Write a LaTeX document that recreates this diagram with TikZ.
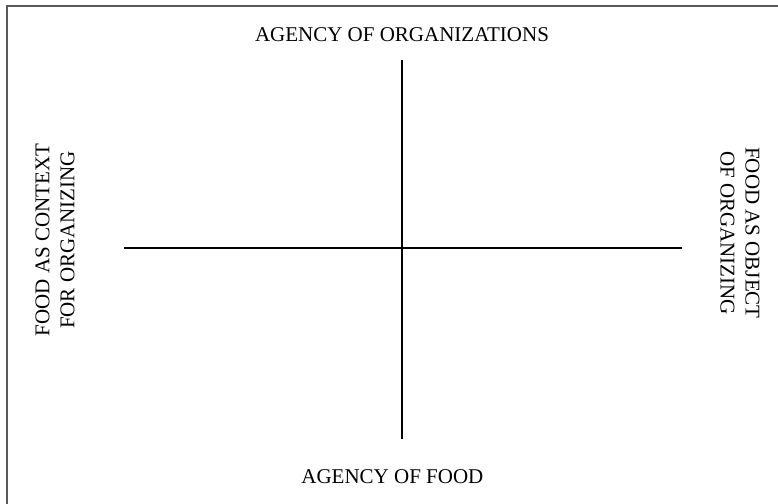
\documentclass[tikz,border=0pt]{standalone}
\usepackage{fontspec}
\setmainfont{Liberation Serif}
\begin{document}
\begin{tikzpicture}[x=1pt,y=-1pt,
  axis/.style={line width=1.3pt,black},
  frame/.style={line width=2pt,draw=black!65},
  lbl/.style={inner sep=0pt,font=\fontsize{21}{25}\selectfont,align=center}]
\clip (0,0) rectangle (778,503);
\draw[frame] (6.5,6.5) rectangle (800,520);
\coordinate (vt) at (402,60);
\coordinate (vb) at (402,439);
\coordinate (hl) at (124,248);
\coordinate (hr) at (682,248);
\draw[axis] (vt) -- (vb);
\draw[axis] (hl) -- (hr);
\node[lbl,anchor=base] (top) at (402,41.7) {AGENCY OF ORGANIZATIONS};
\node[lbl,anchor=base] (bot) at (392.4,483) {AGENCY OF FOOD};
\node[lbl,rotate=90] (left) at (55,240) {FOOD AS CONTEXT\\FOR ORGANIZING};
\node[lbl,rotate=-90] (right) at (740,233) {FOOD AS OBJECT\\OF ORGANIZING};
\end{tikzpicture}
\end{document}
